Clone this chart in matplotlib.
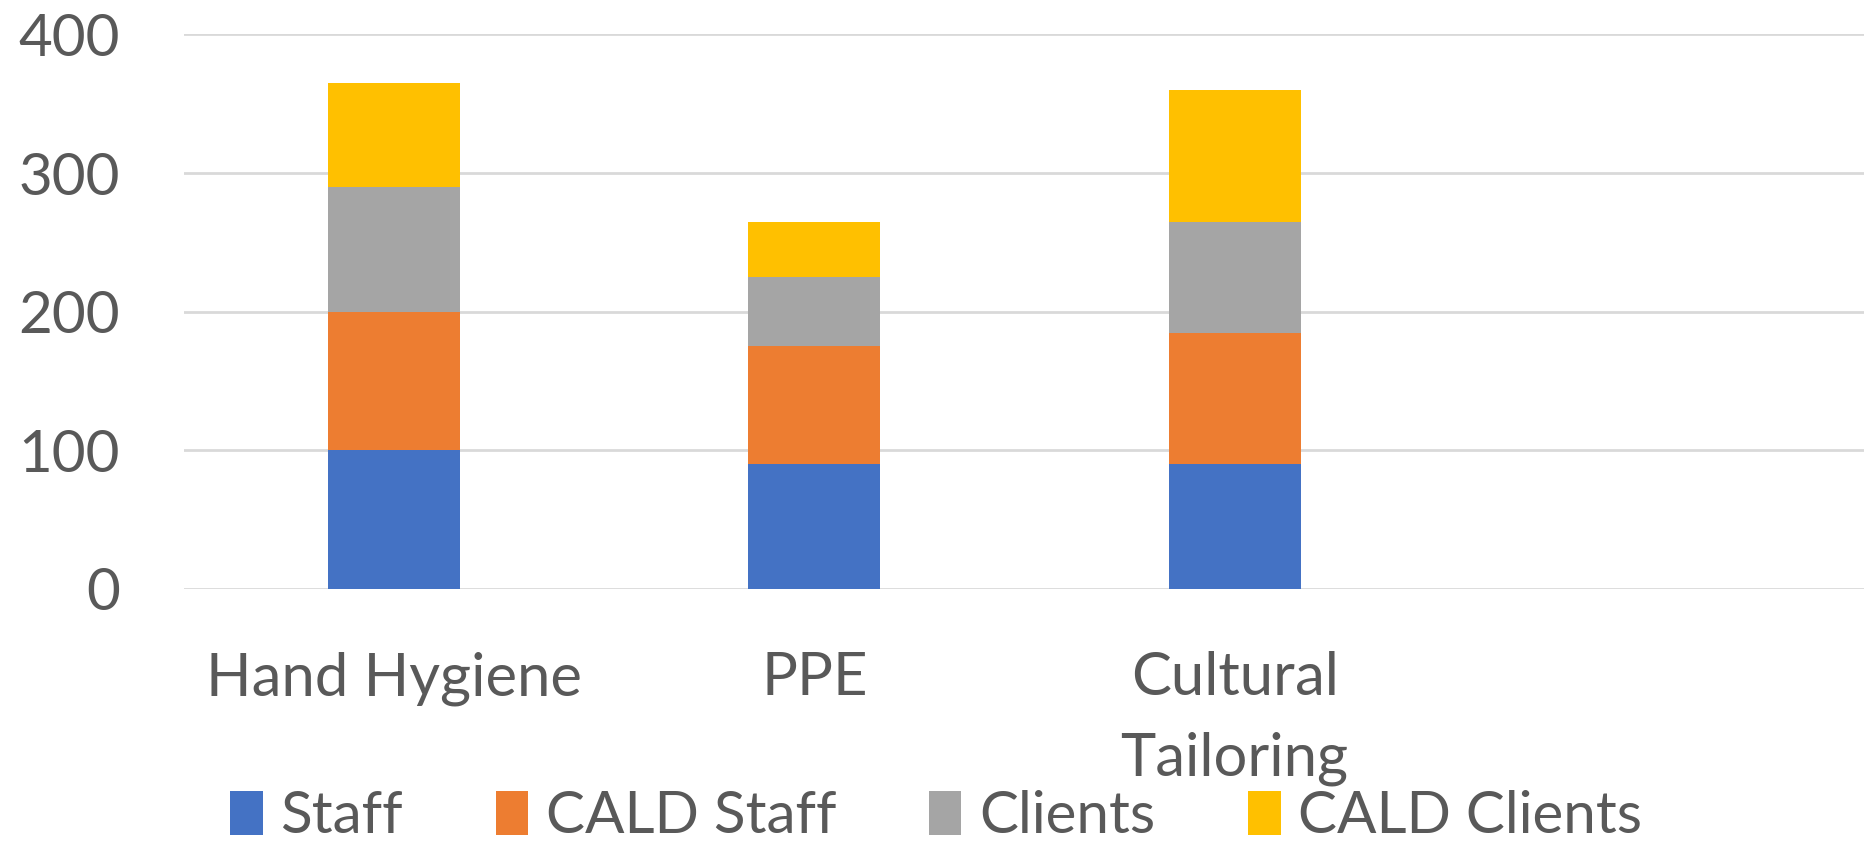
import numpy as np
import matplotlib.pyplot as plt
from matplotlib.patches import Patch

# datos
categories = ["Hand Hygiene", "PPE", "Cultural\nTailoring", ""]
series_names = ["Staff", "CALD Staff", "Clients", "CALD Clients"]
staff = [100, 90, 90, 0]
cald_staff = [100, 85, 95, 0]
clients = [90, 50, 80, 0]
cald_clients = [75, 40, 95, 0]
colors = ["#4472C4", "#ED7D31", "#A5A5A5", "#FFC000"]

plt.rcParams['font.family'] = ['Lato', 'DejaVu Sans']
text_color = "#595959"

fig = plt.figure(figsize=(18.65, 8.49), dpi=100)
ax = fig.add_axes([0.0987, 0.3063, 0.9013, 0.6531])

x = np.arange(len(categories))
bottom = np.zeros(len(categories))
for vals, name, col in zip([staff, cald_staff, clients, cald_clients], series_names, colors):
    ax.bar(x, vals, width=0.314, bottom=bottom, color=col, label=name, zorder=3)
    bottom += np.array(vals)

ax.set_xlim(-0.5, len(categories) - 0.5)
ax.set_ylim(0, 400)
ax.set_yticks([0, 100, 200, 300, 400])
ax.yaxis.grid(True, color="#D9D9D9", linewidth=2, zorder=0)
for s in ax.spines.values():
    s.set_visible(False)
ax.tick_params(axis='both', length=0, colors=text_color)
ax.tick_params(axis='y', pad=46, labelsize=42)
ax.tick_params(axis='x', pad=45, labelsize=43)
ax.set_xticks(x)
ax.set_xticklabels(categories, linespacing=1.6, va='top')

handles = [Patch(facecolor=c, label=n) for c, n in zip(colors, series_names)]
leg = fig.legend(handles=handles, ncol=4, loc='lower center',
                 bbox_to_anchor=(0.502, -0.055), frameon=False, fontsize=42,
                 handlelength=0.55, handleheight=0.8, handletextpad=0.3,
                 columnspacing=1.6)
for t in leg.get_texts():
    t.set_color(text_color)

fig.savefig("out.png", dpi=100)
